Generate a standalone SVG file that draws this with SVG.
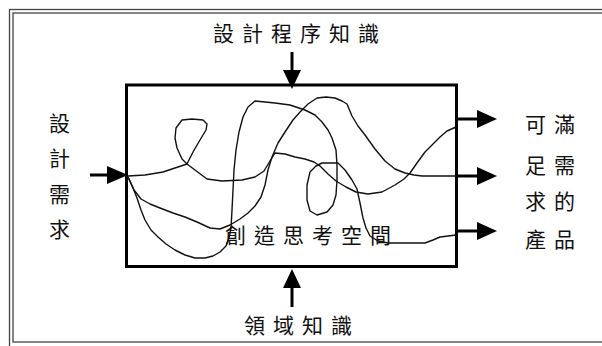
<svg xmlns="http://www.w3.org/2000/svg" width="602" height="346" viewBox="0 0 602 346">
<defs>
<style>
.lbl{font-family:"Noto Sans CJK TC","Noto Sans CJK JP",sans-serif;font-size:21px;fill:#111;letter-spacing:8px}
.cur{fill:none;stroke:#111;stroke-width:1.4;stroke-linejoin:round;stroke-linecap:round}
.shaft{stroke:#000;stroke-width:3;fill:none}
.head{fill:#000}
.frame{fill:none;stroke:#444;stroke-width:1.3}
</style>
</defs>
<rect width="602" height="346" fill="#fff"/>
<g id="frame">
<rect class="frame" x="9.5" y="9.5" width="620" height="345"/>
<rect class="frame" x="13" y="13" width="620" height="329"/>
</g>
<g id="space">
<rect x="126.5" y="85" width="330" height="181.5" fill="none" stroke="#000" stroke-width="3"/>
<text class="lbl" x="225" y="243">創造思考空間</text>
</g>
<g id="connectors">
<path class="cur" d="M128,176 L145,175 L163,172 L175,168 L187,164 L193,152 L200,140 L206,130 L207,124 L203,120 L192,119 L182,120 L176,128 L175,138 L177,148 L182,159 L187,164 L195,170 L207,179 L222,181 L242,180 L255,177 L264,171 L270,161 L275,153 L285,154 L295,157 L305,159 L314,162 L320,166 L328,174 L336,181 L346,187 L356,192 L368,194 L382,192 L395,185 L404,179 L410,173 L417,163 L425,152 L432,145 L440,137 L447,131 L456,127"/>
<path class="cur" d="M128,177 L133,188 L137,198 L141,210 L145,220 L151,230 L158,237 L166,244 L175,250 L185,255 L195,258 L205,258 L213,256 L220,252 L226,246 L229,238 L231,228 L232,210 L233,190 L234,170 L236,150 L239,132 L243,117 L248,107 L255,101 L265,102 L275,103 L290,105 L305,110 L315,115 L322,122 L328,130 L332,138 L336,150 L337,165 L337,180 L336,195 L333,205 L327,212 L317,215 L310,211 L307,200 L307,185 L310,172 L316,166 L322,163 L330,163 L338,163 L345,170 L352,180 L357,189 L360,203 L363,218 L366,228 L370,236 L378,241 L388,243 L410,243 L425,243 L433,240 L440,237 L448,236 L456,235"/>
<path class="cur" d="M128,177 L134,190 L141,199 L150,204 L160,208 L173,213 L185,217 L197,222 L210,228 L220,229 L230,225 L240,219 L248,213 L255,206 L261,197 L265,185 L268,170 L272,157 L278,143 L285,132 L293,120 L300,112 L308,104 L317,98 L326,97 L335,98 L342,101 L347,104 L352,116 L358,126 L365,135 L375,149 L385,161 L395,169 L405,173 L414,175 L422,176 L440,176 L456,176"/>
<line class="shaft" x1="292" y1="52" x2="292" y2="72"/>
<polygon class="head" points="283,70 301,70 292,89"/>
<line class="shaft" x1="292" y1="307" x2="292" y2="286"/>
<polygon class="head" points="283,288 301,288 292,269"/>
<line class="shaft" x1="90" y1="175" x2="110" y2="175"/>
<polygon class="head" points="107,166 107,184 128,175"/>
<line class="shaft" x1="457" y1="119" x2="480" y2="119"/>
<polygon class="head" points="477,110 477,128 497,119"/>
<line class="shaft" x1="457" y1="176" x2="480" y2="176"/>
<polygon class="head" points="477,167 477,185 497,176"/>
<line class="shaft" x1="457" y1="231" x2="480" y2="231"/>
<polygon class="head" points="477,222 477,240 497,231"/>
</g>
<g id="top-label"><text class="lbl" x="213" y="41">設計程序知識</text></g>
<g id="bottom-label"><text class="lbl" x="244" y="333">領域知識</text></g>
<g id="left-label">
<text class="lbl" x="49" y="131">設</text>
<text class="lbl" x="49" y="166">計</text>
<text class="lbl" x="49" y="202">需</text>
<text class="lbl" x="49" y="237">求</text>
</g>
<g id="right-label">
<text class="lbl" x="525" y="132">可滿</text>
<text class="lbl" x="525" y="173">足需</text>
<text class="lbl" x="525" y="209">求的</text>
<text class="lbl" x="525" y="247">產品</text>
</g>
</svg>
